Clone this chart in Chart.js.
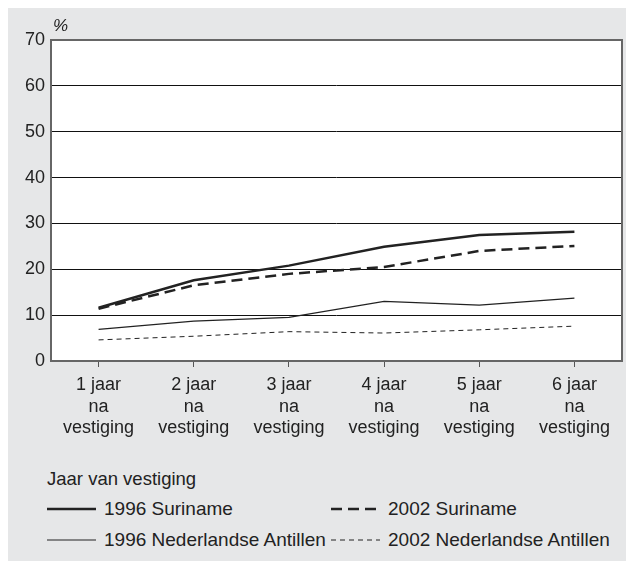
<!DOCTYPE html>
<html>
<head>
<meta charset="utf-8">
<script src="https://cdn.jsdelivr.net/npm/chart.js@4"></script>
<style>
  body { margin: 0; background: #fff; font-family: "Liberation Sans", Arial, Helvetica, sans-serif; }
  #wrap { position: relative; width: 626px; height: 561px; overflow: hidden; }
  #panel { position: absolute; left: 8px; top: 8px; width: 618px; height: 553px; background: #e6e7e8; }
  #cv { position: absolute; left: 0; top: 0; }
  #unit { position: absolute; left: 53px; top: 16px; font-size: 17px; font-style: italic; color: #222; }
  #legTitle { position: absolute; left: 47px; top: 468px; font-size: 18.5px; line-height: 22px; color: #222; }
  .leg { position: absolute; font-size: 19px; line-height: 22px; color: #222; display: flex; align-items: center; white-space: nowrap; }
  .leg svg { margin-right: 8px; }
</style>
</head>
<body>
<div id="wrap">
  <div id="panel"></div>
  <canvas id="cv" width="626" height="450"></canvas>
  <div id="unit">%</div>
  <div id="legTitle">Jaar van vestiging</div>
  <div id="legend"></div>
</div>
<script>
const categories = [
  ['1 jaar', 'na', 'vestiging'],
  ['2 jaar', 'na', 'vestiging'],
  ['3 jaar', 'na', 'vestiging'],
  ['4 jaar', 'na', 'vestiging'],
  ['5 jaar', 'na', 'vestiging'],
  ['6 jaar', 'na', 'vestiging']
];
const suriname1996 = [11.6, 17.6, 20.8, 24.9, 27.5, 28.2];
const suriname2002 = [11.4, 16.5, 19.0, 20.5, 24.0, 25.1];
const antillen1996 = [6.9, 8.7, 9.5, 13.0, 12.2, 13.7];
const antillen2002 = [4.6, 5.4, 6.4, 6.1, 6.8, 7.6];
const yTicks = [0, 10, 20, 30, 40, 50, 60, 70];

const series = [
  { label: '1996 Suriname', data: suriname1996, width: 2.5, dash: [] },
  { label: '2002 Suriname', data: suriname2002, width: 2.5, dash: [11, 6] },
  { label: '1996 Nederlandse Antillen', data: antillen1996, width: 1.2, dash: [] },
  { label: '2002 Nederlandse Antillen', data: antillen2002, width: 1, dash: [5, 4] }
];

// white plot area + grey frame
const frame = {
  id: 'frame',
  beforeDraw(chart) {
    const { ctx, chartArea: a } = chart;
    ctx.save();
    ctx.fillStyle = '#fff';
    ctx.fillRect(a.left, a.top, a.right - a.left, a.bottom - a.top);
    ctx.restore();
  },
  afterDatasetsDraw(chart) {
    const { ctx, chartArea: a } = chart;
    ctx.save();
    ctx.strokeStyle = '#666';
    ctx.lineWidth = 2;
    ctx.strokeRect(a.left, a.top, a.right - a.left, a.bottom - a.top);
    ctx.restore();
  }
};

const tickFont = { family: "'Liberation Sans', Arial, sans-serif", size: 18 };

new Chart(document.getElementById('cv'), {
  type: 'line',
  data: {
    labels: categories,
    datasets: series.map(s => ({
      label: s.label,
      data: s.data,
      borderColor: '#222',
      borderWidth: s.width,
      borderDash: s.dash,
      pointRadius: 0,
      fill: false,
      tension: 0
    }))
  },
  options: {
    responsive: false,
    animation: false,
    layout: { padding: { top: 40, right: 4, left: 0, bottom: 0 } },
    plugins: { legend: { display: false }, tooltip: { enabled: false } },
    scales: {
      x: {
        offset: true,
        grid: { offset: false, drawOnChartArea: false, drawTicks: true, tickLength: 6, color: '#555' },
        border: { display: false },
        ticks: {
          color: '#222',
          font: { ...tickFont, lineHeight: 1.17 },
          padding: 8,
          maxRotation: 0,
          autoSkip: false
        },
        afterFit(scale) { scale.height = 89; }
      },
      y: {
        min: 0,
        max: 70,
        afterBuildTicks(scale) { scale.ticks = yTicks.map(v => ({ value: v })); },
        grid: { color: '#111', lineWidth: 1, drawTicks: false },
        border: { display: false },
        ticks: {
          color: '#222',
          font: tickFont,
          padding: 6
        },
        afterFit(scale) { scale.width = 51; }
      }
    }
  },
  plugins: [frame]
});

// legend in two columns
const legend = document.getElementById('legend');
const cols = [47, 331];
const rows = [498, 529];
series.forEach((s, i) => {
  const div = document.createElement('div');
  div.className = 'leg';
  div.style.left = cols[i % 2] + 'px';
  div.style.top = rows[Math.floor(i / 2)] + 'px';
  const dash = s.dash.length ? s.dash.join(' ') : 'none';
  div.innerHTML = '<svg width="49" height="6"><line x1="0" y1="3" x2="49" y2="3" stroke="#222" stroke-width="' +
    s.width + '" stroke-dasharray="' + dash + '"/></svg>';
  const span = document.createElement('span');
  span.textContent = s.label;
  div.appendChild(span);
  legend.appendChild(div);
});
</script>
</body>
</html>
